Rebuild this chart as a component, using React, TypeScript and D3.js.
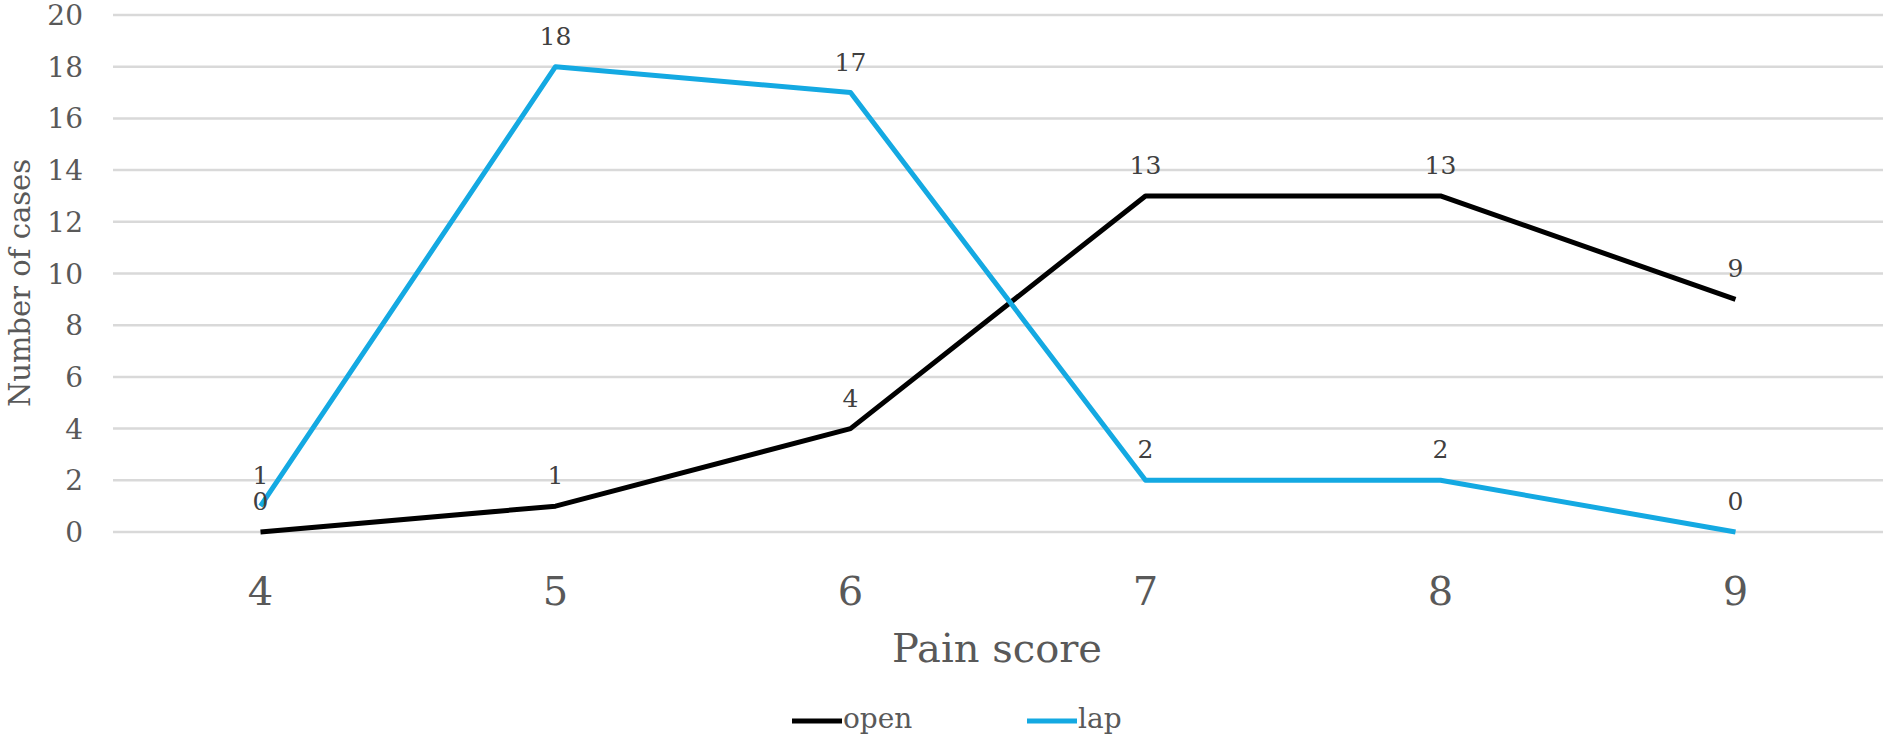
import React from "react";
import * as d3 from "d3";

const categories = ["4", "5", "6", "7", "8", "9"];
const openValues = [0, 1, 4, 13, 13, 9];
const lapValues = [1, 18, 17, 2, 2, 0];
const yTicks = [0, 2, 4, 6, 8, 10, 12, 14, 16, 18, 20];

const W = 1890;
const H = 743;
const FONT = "'DejaVu Serif', serif";

export default function App() {
  const x = d3.scaleBand<string>().domain(categories).range([113, 1883]);
  const cx = (c: string) => (x(c) as number) + x.bandwidth() / 2;
  const y = d3.scaleLinear().domain([0, 20]).range([532, 15]);

  const line = d3
    .line<number>()
    .x((_, i) => cx(categories[i]))
    .y((d) => y(d));

  const series = [
    { name: "open", values: openValues, color: "#000000" },
    { name: "lap", values: lapValues, color: "#14A9E2" },
  ];

  return (
    <svg
      width={W}
      height={H}
      style={{ position: "absolute", left: 0, top: 0, background: "#fff" }}
    >
      {yTicks.map((t) => (
        <g key={t}>
          <line x1={113} x2={1883} y1={y(t)} y2={y(t)} stroke="#d9d9d9" strokeWidth={2.5} />
          <text
            x={83}
            y={y(t)}
            dy="0.36em"
            textAnchor="end"
            fontFamily={FONT}
            fontSize={28}
            fill="#595959"
          >
            {t}
          </text>
        </g>
      ))}
      {categories.map((c) => (
        <text
          key={c}
          x={cx(c)}
          y={605}
          textAnchor="middle"
          fontFamily={FONT}
          fontSize={40}
          fill="#595959"
        >
          {c}
        </text>
      ))}
      <text
        x={997}
        y={662}
        textAnchor="middle"
        fontFamily={FONT}
        fontSize={40}
        fill="#595959"
      >
        Pain score
      </text>
      <text
        transform={`translate(30,283) rotate(-90)`}
        textAnchor="middle"
        fontFamily={FONT}
        fontSize={29}
        fill="#595959"
      >
        Number of cases
      </text>
      {series.map((s) => (
        <path
          key={s.name}
          d={line(s.values) as string}
          fill="none"
          stroke={s.color}
          strokeWidth={5}
          strokeLinejoin="round"
        />
      ))}
      {series.map((s) =>
        s.values.map((v, i) => (
          <text
            key={s.name + i}
            x={cx(categories[i])}
            y={y(v) - 22}
            textAnchor="middle"
            fontFamily={FONT}
            fontSize={25}
            fill="#404040"
          >
            {v}
          </text>
        ))
      )}
      {series.map((s, i) => {
        const lx = 792 + i * 235;
        return (
          <g key={s.name}>
            <line x1={lx} x2={lx + 50} y1={721} y2={721} stroke={s.color} strokeWidth={5} />
            <text x={lx + 51} y={728} fontFamily={FONT} fontSize={28} fill="#595959">
              {s.name}
            </text>
          </g>
        );
      })}
    </svg>
  );
}
